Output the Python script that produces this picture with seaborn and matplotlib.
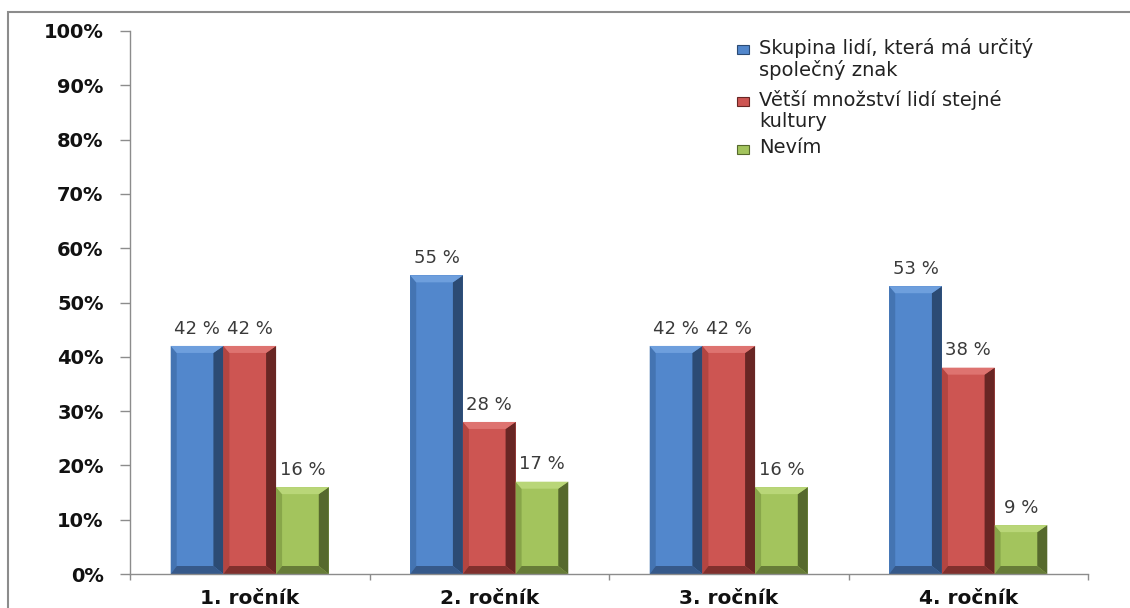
import matplotlib
matplotlib.use("Agg")
import matplotlib.pyplot as plt
import numpy as np
import pandas as pd
import seaborn as sns
from matplotlib.patches import Polygon, Rectangle

# ---- data -------------------------------------------------------------
categories = ["1. ročník", "2. ročník", "3. ročník", "4. ročník"]
series = [
    "Skupina lidí, která má určitý\nspolečný znak",
    "Větší množství lidí stejné\nkultury",
    "Nevím",
]
skupina = [42, 55, 42, 53]
vetsi = [42, 28, 42, 38]
nevim = [16, 17, 16, 9]
y_ticks = [0, 10, 20, 30, 40, 50, 60, 70, 80, 90, 100]
y_tick_labels = [f"{v}%" for v in y_ticks]

# face, left, right, top, bottom shades of each bevelled bar
shades = {
    series[0]: ("#5287CC", "#4474B2", "#2C4B74", "#6E9FDD", "#36598A"),
    series[1]: ("#CD5552", "#B34541", "#682624", "#DE7370", "#80302D"),
    series[2]: ("#A3C45D", "#88A64A", "#56692D", "#B9D678", "#677C38"),
}

df = pd.DataFrame({
    "kategorie": np.repeat(categories, len(series)),
    "odpoved": series * len(categories),
    "hodnota": [v for trio in zip(skupina, vetsi, nevim) for v in trio],
})

# ---- figure -----------------------------------------------------------
sns.set_theme(style="white")
plt.rcParams["font.family"] = ["DejaVu Sans"]

W, H, DPI = 1130, 608, 100
fig = plt.figure(figsize=(W / DPI, H / DPI), dpi=DPI)
fig.patch.set_facecolor("white")
ax = fig.add_axes([130 / W, 1 - 574 / H, 958 / W, 543 / H])

palette = {s: shades[s][0] for s in series}
sns.barplot(data=df, x="kategorie", y="hodnota", hue="odpoved",
            order=categories, hue_order=series, palette=palette,
            width=0.66, gap=0, linewidth=0, saturation=1,
            legend=False, ax=ax)

ax.set_xlim(-0.5, len(categories) - 0.5)
ax.set_ylim(0, 100)

# pixel size in data units, for the bevel strips
px_x = (ax.get_xlim()[1] - ax.get_xlim()[0]) / (ax.get_position().width * W)
px_y = (ax.get_ylim()[1] - ax.get_ylim()[0]) / (ax.get_position().height * H)
bl, br, bt, bb = 6, 10, 7, 8  # bevel widths in pixels

for cont, name in zip(ax.containers, series):
    face, left, right, top, bottom = shades[name]
    for bar in cont:
        x0, w, h = bar.get_x(), bar.get_width(), bar.get_height()
        x1 = x0 + w
        dl, dr = bl * px_x, br * px_x
        dt, db = min(bt * px_y, h / 2), min(bb * px_y, h / 2)
        pieces = [
            ([(x0, 0), (x0 + dl, db), (x0 + dl, h - dt), (x0, h)], left),
            ([(x1, 0), (x1 - dr, db), (x1 - dr, h - dt), (x1, h)], right),
            ([(x0, h), (x0 + dl, h - dt), (x1 - dr, h - dt), (x1, h)], top),
            ([(x0, 0), (x0 + dl, db), (x1 - dr, db), (x1, 0)], bottom),
        ]
        for pts, col in pieces:
            ax.add_patch(Polygon(pts, closed=True, facecolor=col,
                                 edgecolor="none", zorder=bar.get_zorder() + 0.1))
        ax.annotate(f"{h:.0f} %", (x0 + w / 2, h), xytext=(0, 6),
                    textcoords="offset points", ha="center", va="bottom",
                    fontsize=13, color="#3a3a3a")

# ---- axes styling -----------------------------------------------------
for s in ["top", "right"]:
    ax.spines[s].set_visible(False)
for s in ["left", "bottom"]:
    ax.spines[s].set_color("#8c8c8c")
    ax.spines[s].set_linewidth(1.0)

ax.set_yticks(y_ticks)
ax.set_yticklabels(y_tick_labels, fontsize=14, fontweight="bold", color="#111111")
ax.tick_params(axis="y", direction="out", length=7, width=1, color="#8c8c8c", pad=12, left=True)

ax.set_xticks(range(len(categories)))
ax.set_xticklabels(categories, fontsize=14.5, fontweight="bold", color="#111111")
ax.set_xticks(np.arange(-0.5, len(categories)), minor=True)
ax.tick_params(axis="x", which="major", length=0, pad=11)
ax.tick_params(axis="x", which="minor", direction="out", length=4.5, width=1,
               color="#8c8c8c", bottom=True)
ax.set_xlabel("")
ax.set_ylabel("")
ax.grid(False)

# ---- legend -----------------------------------------------------------
leg_x, leg_top = 737 / W, 1 - 41 / H
entry_gap = [0, 52, 100]
for name, dy in zip(series, entry_gap):
    y_top = leg_top - dy / H
    fig.patches.append(Rectangle((leg_x, y_top - 13 / H), 12 / W, 9 / H,
                                 transform=fig.transFigure, facecolor=shades[name][0],
                                 edgecolor=shades[name][2], linewidth=0.8))
    fig.text(leg_x + 22 / W, y_top + 3 / H, name, ha="left", va="top",
             fontsize=14, color="#222222", linespacing=1.12)

# ---- outer frame ------------------------------------------------------
fig.patches.append(Rectangle((8 / W, -0.2), 1.2, 1.2 - 12 / H,
                             transform=fig.transFigure, fill=False,
                             edgecolor="#8c8c8c", linewidth=1.5))

fig.savefig("out.png", dpi=DPI)
